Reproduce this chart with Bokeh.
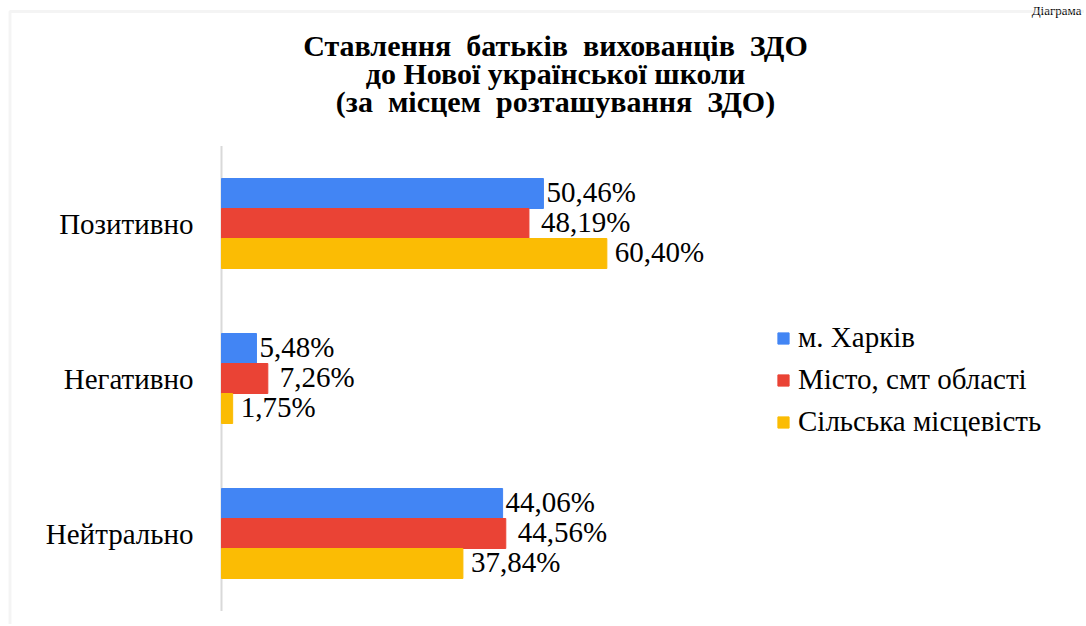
from bokeh.plotting import figure
from bokeh.models import (ColumnDataSource, Range1d, LabelSet, Label,
                          Legend, LegendItem, BoxAnnotation)
from bokeh.transform import dodge
from bokeh.embed import file_html
from bokeh.resources import INLINE

categories = ["Позитивно", "Негативно", "Нейтрально"]
series_names = ["м. Харків", "Місто, смт області", "Сільська місцевість"]
kharkiv = [50.46, 5.48, 44.06]
misto = [48.19, 7.26, 44.56]
silska = [60.40, 1.75, 37.84]
title_lines = ["Ставлення  батьків  вихованців  ЗДО",
               "до Нової української школи",
               "(за  місцем  розташування  ЗДО)"]
corner_text = "Діаграма"

colors = ["#4285F4", "#EA4335", "#FBBC04"]
serif = "Liberation Serif, Times New Roman, serif"
W, H = 1084, 624

def fmt(v):
    return ("%.2f" % v).replace(".", ",") + "%"

def keep_spaces(t):
    return t.replace("  ", " \u00a0")

pos = [-i for i in range(len(categories))]   # category slots, top to bottom
src = ColumnDataSource(dict(
    cat=categories, pos=pos,
    k=kharkiv, m=misto, s=silska,
    kl=[fmt(v) for v in kharkiv],
    ml=[fmt(v) for v in misto],
    sl=[fmt(v) for v in silska],
))

pxu = 6.38      # pixels per percent
band = 155.0    # pixels per category
x0 = 221        # pixel position of the value axis
yc0 = 223       # pixel centre of first category
p = figure(width=W, height=H, output_backend="svg", toolbar_location=None,
           x_range=Range1d(-x0 / pxu, (W - x0) / pxu),
           y_range=Range1d(-(H - yc0) / band, yc0 / band),
           min_border=0, title=None)
p.outline_line_color = None
p.background_fill_color = "white"
p.border_fill_color = "white"
p.grid.visible = False
p.axis.visible = False

# category axis line and labels
ncat = len(categories)
p.segment(x0=[0], y0=[0.5], x1=[0], y1=[0.5 - ncat], line_color="#d9d9d9", line_width=2)
p.text(x=0, y="pos", text="cat", source=src, x_offset=-28, text_align="right",
       text_baseline="middle", text_font=serif, text_font_size="29px", text_color="black")

h = 30.0 / band
fields = ["k", "m", "s"]
lfields = ["kl", "ml", "sl"]
offs = [h, 0, -h]
xoffs = [3, 12, 8]
items = []
for f, lf, c, o, xo, name in zip(fields, lfields, colors, offs, xoffs, series_names):
    r = p.hbar(y=dodge("pos", o), right=f, left=0, height=h,
               source=src, fill_color=c, line_color=c)
    items.append(LegendItem(label=name, renderers=[r]))
    ls = LabelSet(x=f, y=dodge("pos", o), text=lf, source=src,
                  x_offset=xo, y_offset=2, text_baseline="middle",
                  text_font=serif, text_font_size="29px", text_color="black")
    p.add_layout(ls)

legend = Legend(items=items, location=(776, 186), orientation="vertical",
                glyph_width=14, glyph_height=14, label_text_font=serif,
                label_text_font_size="29px", label_text_color="black",
                spacing=9, padding=0, margin=0, border_line_color=None,
                background_fill_alpha=0, label_standoff=8)
p.add_layout(legend)

ys = [H - 45, H - 73, H - 101]
for t, yy in zip(title_lines, ys):
    p.add_layout(Label(x=555, y=yy, x_units="screen", y_units="screen", text=keep_spaces(t),
                       text_align="center", text_baseline="middle",
                       text_font=serif, text_font_style="bold",
                       text_font_size="30px", text_color="black"))

p.add_layout(Label(x=W - 3, y=H - 10, x_units="screen", y_units="screen", text=corner_text,
                   text_align="right", text_baseline="alphabetic",
                   text_font=serif, text_font_size="13px", text_color="black"))

p.add_layout(BoxAnnotation(left=9.5, right=W + 20, bottom=-20, top=H - 11,
                           left_units="screen", right_units="screen",
                           bottom_units="screen", top_units="screen",
                           fill_alpha=0, line_color="#d9d9d9", line_width=3))

open("out.html", "w").write(file_html(p, INLINE))
